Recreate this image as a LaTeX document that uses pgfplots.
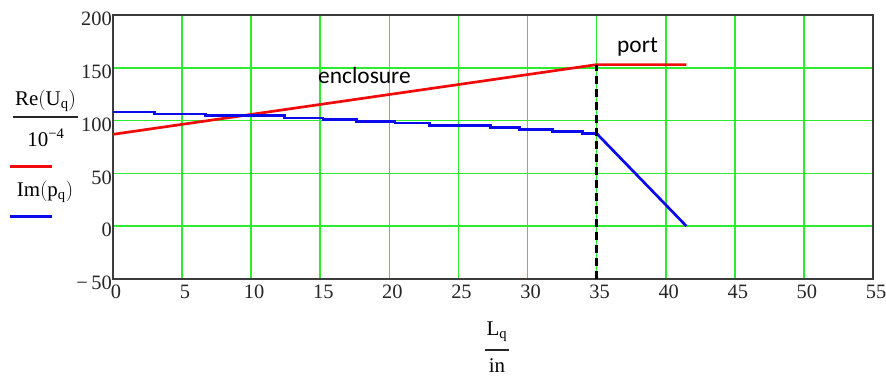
\documentclass[border=0pt]{standalone}
\usepackage{pgfplots}
\pgfplotsset{compat=1.18}
\usepackage{fontspec}
\setmainfont{Liberation Serif}
\newfontfamily\notefont{Carlito}
\definecolor{gridgreen}{RGB}{45,235,45}
\definecolor{curvered}{RGB}{240,10,10}
\definecolor{curveblue}{RGB}{10,10,235}
\definecolor{framegray}{RGB}{60,60,60}

\begin{document}
\begin{tikzpicture}[x=1bp,y=1bp]
\useasboundingbox (0,0) rectangle (886,376);
\begin{axis}[
  at={(113bp,97bp)}, anchor=south west,
  scale only axis, width=760bp, height=264bp,
  xmin=0, xmax=55, ymin=-50, ymax=200,
  xtick={0,5,...,55}, ytick={-50,0,...,200},
  xticklabels={0,5,10,15,20,25,30,35,40,45,50,55},
  yticklabels={−\,50,0,50,100,150,200},
  /pgf/number format/assume math mode=true,
  grid=major,
  major grid style={draw=gridgreen, line width=1.6bp},
  axis line style={draw=framegray, line width=1.6bp},
  tick style={draw=none},
  ticklabel style={font=\fontsize{20.5}{20.5}\selectfont, text=black!85},
  yticklabel style={inner sep=1bp, yshift=-4bp},
  xticklabel style={inner sep=1bp, xshift=3bp, yshift=-5bp},
  clip=false,
]
% Re(U_q)/1e-4 : enclosure ramp, then constant through the port
\addplot[curvered, line width=2.7bp] coordinates {(0,87) (35,153) (41.5,153)};
% Im(p_q) : stepped decline in the enclosure
\addplot[const plot, curveblue, line width=2.7bp] coordinates {
  (0,108.2) (3.0,106.3) (6.7,105.1) (9.4,104.5) (12.4,102.6) (15.2,101.0)
  (17.6,99.4) (20.4,97.8) (22.9,95.5) (27.3,93.5) (29.4,91.6) (31.8,89.7)
  (34.0,87.8) (35,87.8)};
% Im(p_q) : linear drop along the port
\addplot[curveblue, line width=2.7bp] coordinates {(35,87.8) (41.5,0)};
% enclosure / port boundary
\addplot[black, line width=2.7bp, dash pattern=on 8bp off 5bp] coordinates {(35,-50) (35,153)};
\end{axis}

% region labels
\node[anchor=base west, inner sep=0] at (318,293) {\notefont\fontsize{23.5}{23.5}\selectfont enclosure};
\node[anchor=base west, inner sep=0] at (617,324) {\notefont\fontsize{23.5}{23.5}\selectfont port};

% y-axis quantities with line keys
\begin{scope}[font=\fontsize{21}{21}\selectfont]
\node at (45.5,275) {Re$\bigl($U\textsubscript{q}$\bigr)$};
\draw[black!85, line width=1.2bp] (13,259) -- (78,259);
\node at (46,238) {10\textsuperscript{−4}};
\draw[curvered, line width=3bp] (10,210) -- (52,210);
\node at (45,184) {Im$\bigl($p\textsubscript{q}$\bigr)$};
\draw[curveblue, line width=3bp] (10,160) -- (52,160);

% x-axis quantity
\node at (497,44) {L\textsubscript{q}};
\draw[black!85, line width=1.2bp] (485,26) -- (509,26);
\node at (497,10) {in};
\end{scope}
\end{tikzpicture}
\end{document}
